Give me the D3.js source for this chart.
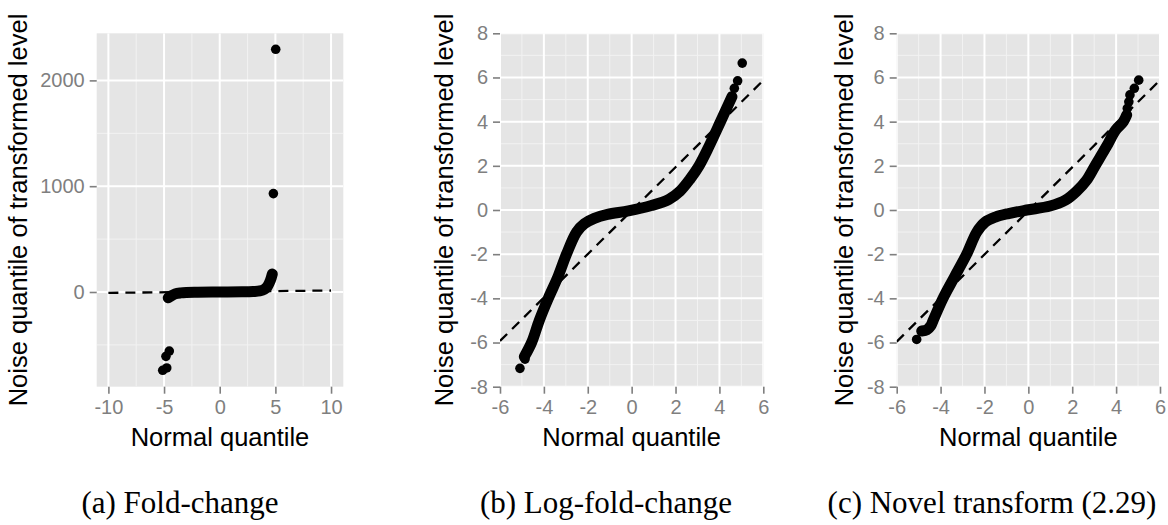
<!DOCTYPE html>
<html><head><meta charset="utf-8">
<script src="https://cdn.jsdelivr.net/npm/d3@7"></script>
<style>body{margin:0;background:#fff} svg{display:block}</style>
</head><body>
<svg id="chart" width="1168" height="525"></svg>
<script>
// ---------- data ----------
const captions = ["(a) Fold-change", "(b) Log-fold-change", "(c) Novel transform (2.29)"];
const yTitle = "Noise quantile of transformed level";
const xTitle = "Normal quantile";

// panel (a) Fold-change
const aXTicks = [-10, -5, 0, 5, 10];
const aXMinor = [-7.5, -2.5, 2.5, 7.5];
const aYTicks = [0, 1000, 2000];
const aYMinor = [-500, 500, 1500];
const aBandX = [-4.62, -4.4, -4.0, -3.5, -3.0, -2.0, 0, 2.0, 3.0, 3.6, 4.0, 4.3, 4.55, 4.72];
const aBandY = [-55, -40, -18, -8, -4, -2, 0, 2, 5, 10, 25, 55, 110, 170];
const aDotX = [-5.12, -4.76, -4.83, -4.53, 4.82, 5.03];
const aDotY = [-740, -718, -608, -558, 930, 2294];
const aRefX = [-10, 10];
const aRefY = [-8, 14];

// panel (b) Log-fold-change
const bXTicks = [-6, -4, -2, 0, 2, 4, 6];
const bXMinor = [-5, -3, -1, 1, 3, 5];
const bYTicks = [-8, -6, -4, -2, 0, 2, 4, 6, 8];
const bYMinor = [-7, -5, -3, -1, 1, 3, 5, 7];
const bBandX = [-4.89, -4.56, -4.21, -3.80, -3.35, -2.97, -2.51, -2.15, -1.70, -1.10, -0.15, 0.90, 1.70, 2.20, 2.66, 3.07, 3.52, 4.05, 4.35, 4.57];
const bBandY = [-6.64, -6.00, -5.00, -4.00, -3.00, -2.00, -1.00, -0.62, -0.38, -0.20, -0.04, 0.20, 0.48, 0.85, 1.40, 2.00, 2.87, 4.00, 4.65, 5.13];
const bDotX = [-5.09, -4.86, 4.68, 4.83, 5.04];
const bDotY = [-7.17, -6.75, 5.51, 5.85, 6.65];
const bRefX = [-6, 6];
const bRefY = [-5.93, 5.87];

// panel (c) Novel transform
const cXTicks = [-6, -4, -2, 0, 2, 4, 6];
const cXMinor = [-5, -3, -1, 1, 3, 5];
const cYTicks = [-8, -6, -4, -2, 0, 2, 4, 6, 8];
const cYMinor = [-7, -5, -3, -1, 1, 3, 5, 7];
const cBandX = [-4.86, -4.62, -4.45, -4.34, -3.89, -3.35, -2.81, -2.35, -1.97, -1.50, -0.9, -0.07, 0.99, 1.70, 2.20, 2.66, 3.04, 3.56, 3.98, 4.33, 4.48];
const cBandY = [-5.48, -5.42, -5.25, -5.00, -4.00, -3.00, -2.00, -1.00, -0.55, -0.32, -0.16, 0.00, 0.18, 0.45, 0.85, 1.36, 2.00, 2.87, 3.62, 4.00, 4.30];
const cDotX = [-5.09, 4.51, 4.58, 4.63, 4.83, 5.03];
const cDotY = [-5.86, 4.60, 4.90, 5.21, 5.51, 5.88];
const cRefX = [-6, 6];
const cRefY = [-5.96, 5.88];

// ---------- layout ----------
const panels = [
  {id: "a", left: 96.7, right: 343.3, xDomain: [-11.05, 11.1], yDomain: [-895, 2445],
   xTicks: aXTicks, xMinor: aXMinor, yTicks: aYTicks, yMinor: aYMinor,
   bandX: aBandX, bandY: aBandY, dotX: aDotX, dotY: aDotY, refX: aRefX, refY: aRefY,
   titleX: 27, caption: captions[0], capX: 180},
  {id: "b", left: 500, right: 763.3, xDomain: [-6, 6], yDomain: [-8, 8],
   xTicks: bXTicks, xMinor: bXMinor, yTicks: bYTicks, yMinor: bYMinor,
   bandX: bBandX, bandY: bBandY, dotX: bDotX, dotY: bDotY, refX: bRefX, refY: bRefY,
   titleX: 453, caption: captions[1], capX: 606},
  {id: "c", left: 896.7, right: 1160, xDomain: [-6, 6], yDomain: [-8, 8],
   xTicks: cXTicks, xMinor: cXMinor, yTicks: cYTicks, yMinor: cYMinor,
   bandX: cBandX, bandY: cBandY, dotX: cDotX, dotY: cDotY, refX: cRefX, refY: cRefY,
   titleX: 853, caption: captions[2], capX: 992}
];
const panelTop = 33.3, panelBottom = 386.7;
const sansFont = "'Liberation Sans', Arial, Helvetica, sans-serif";
const serifFont = "'Liberation Serif', 'Times New Roman', serif";
const grey50 = "#7f7f7f";

const svg = d3.select("#chart");
const fmt = d => String(d);

panels.forEach(p => {
  const x = d3.scaleLinear().domain(p.xDomain).range([p.left, p.right]);
  const y = d3.scaleLinear().domain(p.yDomain).range([panelBottom, panelTop]);
  const g = svg.append("g");

  g.append("rect").attr("x", p.left).attr("y", panelTop)
    .attr("width", p.right - p.left).attr("height", panelBottom - panelTop).attr("fill", "#e5e5e5");

  const clipId = "clip-" + p.id;
  svg.append("clipPath").attr("id", clipId).append("rect")
    .attr("x", p.left).attr("y", panelTop).attr("width", p.right - p.left).attr("height", panelBottom - panelTop);

  const grid = g.append("g").attr("clip-path", `url(#${clipId})`);
  grid.selectAll(".vmin").data(p.xMinor).join("line").attr("class", "vmin")
    .attr("x1", d => x(d)).attr("x2", d => x(d)).attr("y1", panelTop).attr("y2", panelBottom)
    .attr("stroke", "#f2f2f2").attr("stroke-width", 1);
  grid.selectAll(".hmin").data(p.yMinor).join("line").attr("class", "hmin")
    .attr("y1", d => y(d)).attr("y2", d => y(d)).attr("x1", p.left).attr("x2", p.right)
    .attr("stroke", "#f2f2f2").attr("stroke-width", 1);
  grid.selectAll(".vmaj").data(p.xTicks).join("line").attr("class", "vmaj")
    .attr("x1", d => x(d)).attr("x2", d => x(d)).attr("y1", panelTop).attr("y2", panelBottom)
    .attr("stroke", "#ffffff").attr("stroke-width", 2);
  grid.selectAll(".hmaj").data(p.yTicks).join("line").attr("class", "hmaj")
    .attr("y1", d => y(d)).attr("y2", d => y(d)).attr("x1", p.left).attr("x2", p.right)
    .attr("stroke", "#ffffff").attr("stroke-width", 2);

  const marks = g.append("g").attr("clip-path", `url(#${clipId})`);
  const refPts = p.refX.map((v, i) => [v, p.refY[i]]);
  marks.append("path").datum(refPts)
    .attr("d", d3.line().x(d => x(d[0])).y(d => y(d[1])))
    .attr("fill", "none").attr("stroke", "#000").attr("stroke-width", 2.3)
    .attr("stroke-dasharray", "10,7");

  const bandPts = p.bandX.map((v, i) => [v, p.bandY[i]]);
  marks.append("path").datum(bandPts)
    .attr("d", d3.line().x(d => x(d[0])).y(d => y(d[1])).curve(d3.curveCatmullRom.alpha(0.5)))
    .attr("fill", "none").attr("stroke", "#000").attr("stroke-width", 11)
    .attr("stroke-linecap", "round").attr("stroke-linejoin", "round");

  const dotPts = p.dotX.map((v, i) => [v, p.dotY[i]]);
  marks.selectAll("circle").data(dotPts).join("circle")
    .attr("cx", d => x(d[0])).attr("cy", d => y(d[1])).attr("r", 4.8).attr("fill", "#000");

  // axes
  const yAxis = g.append("g").attr("transform", `translate(${p.left},0)`)
    .call(d3.axisLeft(y).tickValues(p.yTicks).tickFormat(fmt).tickSize(7).tickPadding(5));
  const xAxis = g.append("g").attr("transform", `translate(0,${panelBottom})`)
    .call(d3.axisBottom(x).tickValues(p.xTicks).tickFormat(fmt).tickSize(7).tickPadding(6));
  [yAxis, xAxis].forEach(ax => {
    ax.select(".domain").remove();
    ax.selectAll(".tick line").attr("stroke", grey50).attr("stroke-width", 1.6);
    ax.selectAll(".tick text").attr("fill", grey50)
      .style("font-family", sansFont).style("font-size", "20px");
  });

  // titles
  g.append("text").attr("x", (p.left + p.right) / 2).attr("y", 446)
    .attr("text-anchor", "middle").style("font-family", sansFont).style("font-size", "25.5px")
    .attr("fill", "#000").text(xTitle);
  g.append("text").attr("transform", `translate(${p.titleX},${(panelTop + panelBottom) / 2}) rotate(-90)`)
    .attr("text-anchor", "middle").style("font-family", sansFont).style("font-size", "25.5px")
    .attr("fill", "#000").text(yTitle);

  // caption
  g.append("text").attr("x", p.capX).attr("y", 513)
    .attr("text-anchor", "middle").style("font-family", serifFont).style("font-size", "31px")
    .attr("fill", "#000").text(p.caption);
});
</script>
</body></html>
